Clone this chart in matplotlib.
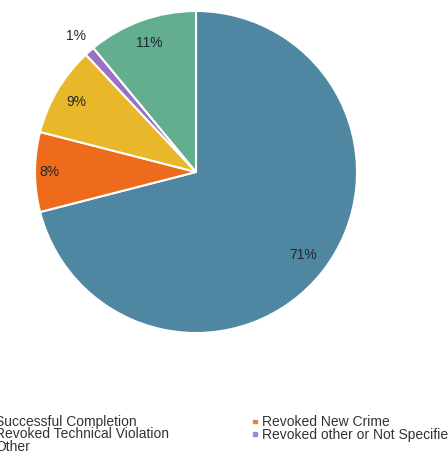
import numpy as np
import matplotlib
matplotlib.use("Agg")
import matplotlib.pyplot as plt

labels = ["Successful Completion", "Revoked New Crime", "Revoked Technical Violation",
          "Revoked other or Not Specified", "Other"]
values = [71, 8, 9, 1, 11]
colors = ["#4F86A1", "#EE6B1C", "#E9B72A", "#9A70C6", "#63AE8F"]
pct_labels = ["71%", "8%", "9%", "1%", "11%"]

plt.rcParams['font.family'] = ['Liberation Sans', 'DejaVu Sans']

fig = plt.figure(figsize=(4.48, 4.68), dpi=100)
ax = fig.add_axes([35/448, 135/468, 322/448, 322/468])
wedges, _ = ax.pie(values, colors=colors, startangle=90, counterclock=False,
                   wedgeprops=dict(edgecolor="white", linewidth=1.5))
ax.set_xlim(-1, 1)
ax.set_ylim(-1, 1)
ax.set_aspect("equal")
ax.axis("off")

dists = [0.84, 0.91, 0.86, 1.13, 0.85]
for w, txt, d in zip(wedges, pct_labels, dists):
    ang = np.deg2rad((w.theta1 + w.theta2) / 2)
    ax.text(d * np.cos(ang), d * np.sin(ang), txt, ha="center", va="center",
            fontsize=10, color="#1f2a30", clip_on=False)

# legend laid out in two columns, row-major
col_x = [-5/448, 262/448]
row_y = [1 - 422/468, 1 - 434.5/468, 1 - 447/468]
for i, (lab, c) in enumerate(zip(labels, colors)):
    col, row = i % 2, i // 2
    x, y = col_x[col], row_y[row]
    fig.text(x, y, lab, ha="left", va="center", fontsize=10, color="#333333")
    fig.patches.append(plt.Rectangle((x - 9/448, y - 1/468), 3.5/448, 3.5/468,
                                     transform=fig.transFigure, color=c, alpha=0.8))

fig.savefig("out.png", dpi=100)
